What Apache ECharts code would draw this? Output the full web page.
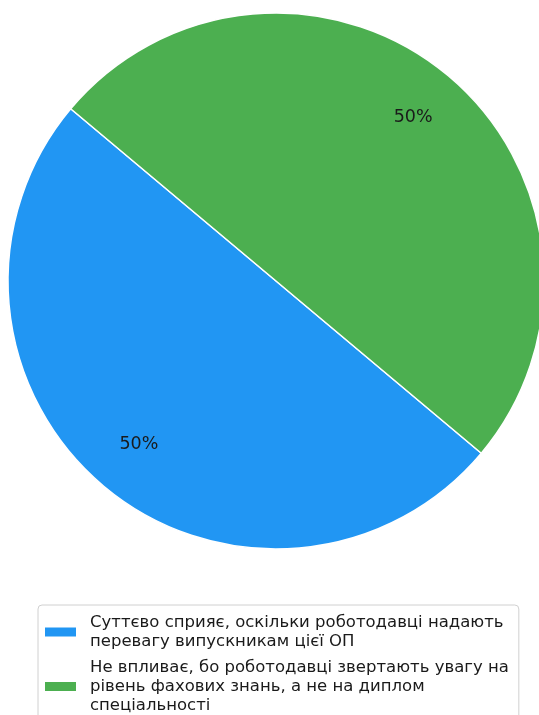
<!DOCTYPE html>
<html>
<head>
<meta charset="utf-8">
<script src="https://cdn.jsdelivr.net/npm/echarts@6/dist/echarts.min.js"></script>
<style>html,body{margin:0;padding:0;background:#fff;}#c{width:539px;height:715px;}</style>
</head>
<body>
<div id="c"></div>
<script>
const categories = [
  'Суттєво сприяє, оскільки роботодавці надають\nперевагу випускникам цієї ОП',
  'Не впливає, бо роботодавці звертають увагу на\nрівень фахових знань, а не на диплом\nспеціальності'
];
const values = [50, 50];
const colors = ['#2196F3', '#4CAF50'];

const data = categories.map((n, i) => ({ name: n, value: values[i], itemStyle: { color: colors[i] } }));
const chart = echarts.init(document.getElementById('c'), null, { renderer: 'canvas' });
const R = 268;
chart.setOption({
  animation: false,
  color: colors,
  legend: {
    orient: 'vertical',
    left: 38,
    top: 605,
    height: 200,
    padding: [8, 10, 7, 7],
    itemWidth: 31,
    itemHeight: 9,
    itemGap: 7,
    borderColor: '#d0d0d0',
    borderWidth: 1,
    borderRadius: 4,
    icon: 'rect',
    itemStyle: { borderWidth: 0 },
    textStyle: { fontFamily: 'DejaVu Sans', fontSize: 16.5, color: '#1a1a1a', lineHeight: 19, padding: [0, 0, 0, 9] },
    data: categories
  },
  series: [
    {
      type: 'pie',
      center: [276, 281],
      radius: [0, R],
      startAngle: 140,
      clockwise: false,
      silent: true,
      label: { show: false },
      labelLine: { show: false },
      itemStyle: { borderColor: '#fff', borderWidth: 1.5 },
      data: data
    },
    {
      type: 'pie',
      center: [276, 281],
      radius: [R * 0.57, R],
      startAngle: 140,
      clockwise: false,
      silent: true,
      legendHoverLink: false,
      label: { show: true, position: 'inside', formatter: '{d}%', fontFamily: 'DejaVu Sans', fontSize: 17.5, color: '#1a1a1a' },
      labelLine: { show: false },
      itemStyle: { color: 'transparent', borderWidth: 0 },
      data: categories.map((n, i) => ({ name: n, value: values[i], itemStyle: { color: 'transparent' } }))
    }
  ]
});
</script>
</body>
</html>
